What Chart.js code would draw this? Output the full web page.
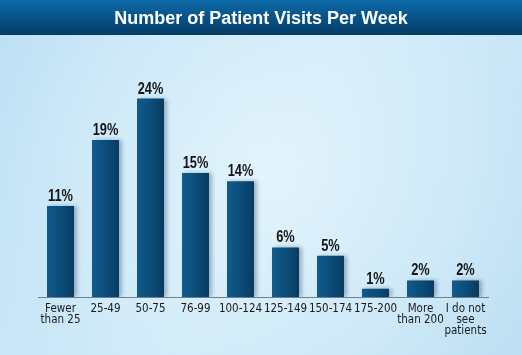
<!DOCTYPE html>
<html>
<head>
<meta charset="utf-8">
<script src="https://cdn.jsdelivr.net/npm/chart.js@4.4.1/dist/chart.umd.min.js"></script>
<style>
html,body{margin:0;padding:0;background:#d4ecf9;}
#wrap{width:522px;height:355px;position:relative;}
canvas{display:block;}
</style>
</head>
<body>
<div id="wrap"><canvas id="c" width="522" height="355"></canvas></div>
<script>
const chartTitle = 'Number of Patient Visits Per Week';
const categories = [['Fewer','than 25'],'25-49','50-75','76-99','100-124','125-149','150-174','175-200',['More','than 200'],['I do not','see','patients']];
const percentValues = [11, 19, 24, 15, 14, 6, 5, 1, 2, 2];
const yMax = 30;

const condensed = "'DejaVu Sans Condensed','Liberation Sans Narrow',sans-serif";

const bgPlugin = {
  id: 'bg',
  beforeDraw(chart) {
    const ctx = chart.ctx, w = chart.width, h = chart.height;
    ctx.save();
    let g = ctx.createLinearGradient(0, 35, w, h);
    g.addColorStop(0, '#bde0f5');
    g.addColorStop(0.5, '#d0ebf9');
    g.addColorStop(1, '#bddff3');
    ctx.fillStyle = g;
    ctx.fillRect(0, 0, w, h);
    let r = ctx.createRadialGradient(270, 170, 10, 270, 170, 320);
    r.addColorStop(0, 'rgba(232,246,253,0.75)');
    r.addColorStop(0.6, 'rgba(222,241,251,0.35)');
    r.addColorStop(1, 'rgba(200,230,248,0)');
    ctx.fillStyle = r;
    ctx.fillRect(0, 35, w, h - 35);
    // title bar
    let t = ctx.createLinearGradient(0, 0, 0, 35);
    t.addColorStop(0, '#0c6aa8');
    t.addColorStop(1, '#053c66');
    ctx.fillStyle = t;
    ctx.fillRect(0, 0, w, 35);
    ctx.fillStyle = '#ffffff';
    ctx.font = "bold 18px 'Liberation Sans', Arial, sans-serif";
    ctx.textAlign = 'center';
    ctx.textBaseline = 'middle';
    ctx.fillText(chartTitle, w / 2, 19);
    ctx.restore();
  }
};

const shadowPlugin = {
  id: 'barShadow',
  beforeDatasetsDraw(chart) {
    const ctx = chart.ctx;
    ctx.save();
    ctx.shadowColor = 'rgba(0,30,60,0.3)';
    ctx.shadowOffsetX = 3;
    ctx.shadowOffsetY = 0;
    ctx.shadowBlur = 4;
  },
  afterDatasetsDraw(chart) {
    chart.ctx.restore();
    const ctx = chart.ctx;
    const meta = chart.getDatasetMeta(0);
    meta.data.forEach((bar, i) => {
      ctx.save();
      ctx.fillStyle = '#141414';
      ctx.font = "bold 16px 'Liberation Sans', Arial, sans-serif";
      ctx.textAlign = 'center';
      ctx.textBaseline = 'alphabetic';
      ctx.translate(bar.x, bar.y - 5);
      ctx.scale(0.8, 1);
      ctx.fillText(percentValues[i] + '%', 0, 0);
      ctx.restore();
    });
  }
};

new Chart(document.getElementById('c'), {
  type: 'bar',
  data: {
    labels: categories,
    datasets: [{
      data: percentValues,
      backgroundColor(context) {
        const chart = context.chart;
        const area = chart.chartArea;
        const xs = chart.scales.x;
        if (!area || !xs || context.dataIndex === undefined) return '#0a4b78';
        const cx = xs.getPixelForValue(context.dataIndex);
        const g = chart.ctx.createLinearGradient(cx - 14, 0, cx + 14, 0);
        g.addColorStop(0, '#115c8e');
        g.addColorStop(0.6, '#0b4a75');
        g.addColorStop(1, '#073a60');
        return g;
      },
      borderWidth: 0,
      categoryPercentage: 1.0,
      barPercentage: 0.6
    }]
  },
  options: {
    responsive: false,
    animation: false,
    layout: { padding: { top: 49, left: 38, right: 34, bottom: 0 } },
    plugins: { legend: { display: false }, tooltip: { enabled: false }, title: { display: false } },
    scales: {
      x: {
        grid: { display: false, drawTicks: false },
        border: { display: true, color: '#6f808c', width: 1 },
        ticks: {
          color: '#1a1a1a',
          font: { family: condensed, size: 11.5, lineHeight: 0.96 },
          padding: 6,
          maxRotation: 0,
          autoSkip: false
        },
        afterFit(scale) { scale.height = 58; }
      },
      y: {
        display: false,
        min: 0,
        max: yMax
      }
    }
  },
  plugins: [bgPlugin, shadowPlugin]
});
</script>
</body>
</html>
